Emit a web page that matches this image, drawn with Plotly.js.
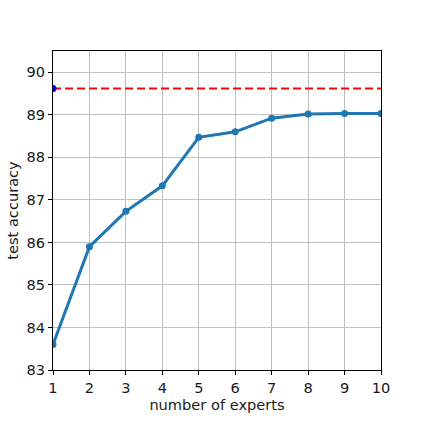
<!DOCTYPE html>
<html>
<head>
<meta charset="utf-8">
<script src="https://cdn.plot.ly/plotly-3.0.1.min.js"></script>
<style>
  html, body { margin: 0; padding: 0; background: #fff; }
  #plot { width: 423px; height: 423px; }
</style>
</head>
<body>
<div id="plot"></div>
<script>
// Data
const experts = [1, 2, 3, 4, 5, 6, 7, 8, 9, 10];
const accuracy = [83.60, 85.90, 86.73, 87.33, 88.47, 88.60, 88.92, 89.02, 89.03, 89.03];
const baseline = 89.62;
const xTicks = [1, 2, 3, 4, 5, 6, 7, 8, 9, 10];
const yTicks = [83, 84, 85, 86, 87, 88, 89, 90];

const font = { family: "DejaVu Sans", size: 14.6, color: "#1a1a1a" };

const traces = [
  {
    // baseline, dashed red across the axes
    x: [experts[0], experts[experts.length - 1]],
    y: [baseline, baseline],
    mode: "lines",
    line: { color: "#ff0000", width: 2, dash: "8px,4px" },
    hoverinfo: "skip"
  },
  {
    x: [experts[0]],
    y: [baseline],
    mode: "markers",
    marker: { color: "#0000ff", size: 7 },
    hoverinfo: "skip"
  },
  {
    x: experts,
    y: accuracy,
    mode: "lines+markers",
    line: { color: "#1f77b4", width: 3 },
    marker: { color: "#1f77b4", size: 7 }
  }
];

const layout = {
  width: 423,
  height: 423,
  margin: { l: 53, r: 42, t: 51, b: 53 },
  paper_bgcolor: "#ffffff",
  plot_bgcolor: "#ffffff",
  showlegend: false,
  font: font,
  xaxis: {
    range: [1, 10],
    tickvals: xTicks,
    ticks: "outside",
    ticklen: 4,
    tickcolor: "#000",
    showgrid: true,
    gridcolor: "#c0c0c0",
    gridwidth: 1,
    zeroline: false,
    showline: true,
    linecolor: "#000",
    linewidth: 1,
    mirror: true,
    tickfont: font,
    title: { text: "number of experts", font: font, standoff: 3 }
  },
  yaxis: {
    range: [83, 90.5],
    tickvals: yTicks,
    ticks: "outside",
    ticklen: 4,
    tickcolor: "#000",
    showgrid: true,
    gridcolor: "#c0c0c0",
    gridwidth: 1,
    zeroline: false,
    showline: true,
    linecolor: "#000",
    linewidth: 1,
    mirror: true,
    tickfont: font,
    title: { text: "test accuracy", font: font, standoff: 4 }
  }
};

Plotly.newPlot("plot", traces, layout, { staticPlot: true, displayModeBar: false });
</script>
</body>
</html>
